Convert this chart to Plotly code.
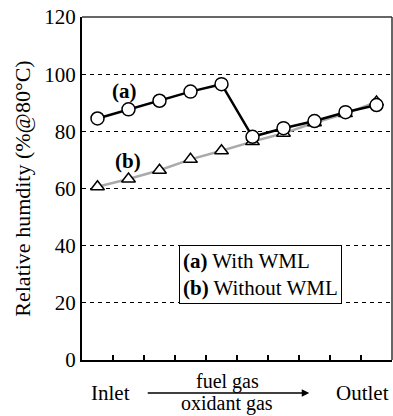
import plotly.graph_objects as go

positions = list(range(10))
with_wml = [84.5, 87.7, 90.7, 93.9, 96.5, 78.1, 81.1, 83.6, 86.7, 89.2]
without_wml = [60.6, 63.3, 66.4, 70.2, 73.2, 76.4, 79.3, 83.0, 86.2, 90.3]
yticks = [0, 20, 40, 60, 80, 100, 120]
xtick_pos = [i + 0.5 for i in range(9)]

FONT = "Liberation Serif, Times New Roman, serif"
fs = 21

fig = go.Figure()
fig.add_trace(go.Scatter(
    x=positions, y=without_wml, mode="lines+markers",
    line=dict(color="#aaaaaa", width=2.5),
    marker=dict(symbol="triangle-up", size=12, color="white",
                line=dict(color="black", width=1.5)),
    showlegend=False, cliponaxis=False))
fig.add_trace(go.Scatter(
    x=positions, y=with_wml, mode="lines+markers",
    line=dict(color="black", width=2.5),
    marker=dict(symbol="circle", size=13, color="white",
                line=dict(color="black", width=1.5)),
    showlegend=False, cliponaxis=False))

fig.update_layout(
    width=393, height=416,
    margin=dict(l=82, r=1, t=17, b=56),
    paper_bgcolor="white", plot_bgcolor="white",
    font=dict(family=FONT, size=fs, color="black"),
    xaxis=dict(range=[-0.5, 9.5], tickvals=xtick_pos, ticktext=[""] * 9,
               ticks="inside", ticklen=5, tickwidth=1.5, tickcolor="black",
               showgrid=False, zeroline=False, showline=True,
               linecolor="black", linewidth=2),
    yaxis=dict(range=[0, 120], tickvals=yticks, ticks="",
               tickfont=dict(family=FONT, size=fs),
               showgrid=True, gridcolor="black", gridwidth=1,
               griddash="4px,4px", zeroline=False, showline=True,
               linecolor="black", linewidth=2,
               title=dict(text="Relative humdity (%@80°C)",
                          font=dict(size=22, family=FONT), standoff=8)),
)

# top and right border
fig.add_shape(type="line", xref="paper", yref="paper", x0=0, x1=1, y0=1, y1=1,
              line=dict(color="#333333", width=1.5))
fig.add_shape(type="line", xref="paper", yref="paper", x0=1, x1=1, y0=0, y1=1,
              line=dict(color="#333333", width=1.5))

def note(x, y, text, xref="paper", yref="paper", size=fs, **kw):
    fig.add_annotation(x=x, y=y, xref=xref, yref=yref, text=text,
                       showarrow=False, xanchor="center", yanchor="middle",
                       font=dict(size=size, family=FONT), **kw)

note(0.88, 94.1, "<b>(a)</b>", xref="x", yref="y")
note(0.98, 69.6, "<b>(b)</b>", xref="x", yref="y")

note(0.5756, 0.248, "<b>(a)</b> With WML<br><b>(b)</b> Without WML",
     align="left", bgcolor="white", bordercolor="black", borderwidth=1,
     borderpad=3)

# bottom labels
note(0.093, -0.096, "Inlet")
note(0.904, -0.096, "Outlet")
fig.add_annotation(x=0.733, y=-0.096, ax=-163, ay=0,
                   xref="paper", yref="paper",
                   text="", showarrow=True, arrowhead=2, arrowsize=1,
                   arrowwidth=1.5, arrowcolor="black")
note(0.469, -0.064, "fuel gas", size=20)
note(0.469, -0.128, "oxidant gas", size=20)

fig.write_html("out.html")
